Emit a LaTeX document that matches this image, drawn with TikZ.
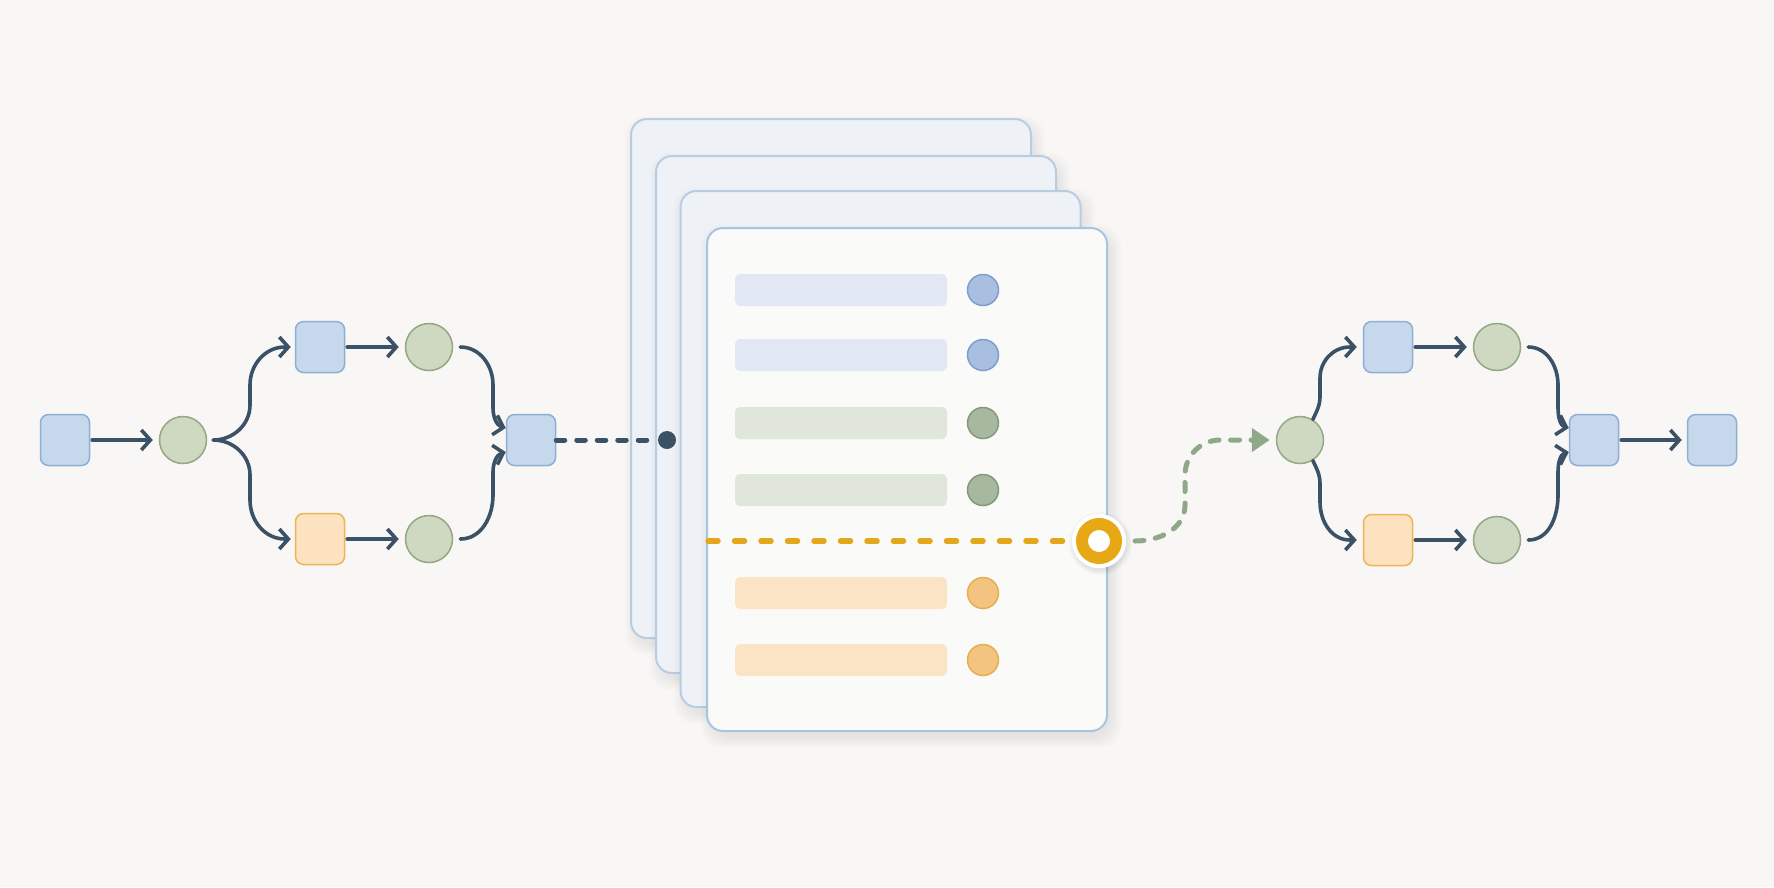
\documentclass[tikz,border=0pt]{standalone}
\usetikzlibrary{arrows.meta}
\definecolor{bg}{HTML}{F8F7F5}
\definecolor{arrowc}{HTML}{3B5166}
\definecolor{sqfill}{HTML}{C6D8EB}
\definecolor{sqdraw}{HTML}{8EAED2}
\definecolor{osqfill}{HTML}{FCE2BF}
\definecolor{osqdraw}{HTML}{EBB657}
\definecolor{cfill}{HTML}{CFD8C0}
\definecolor{cdraw}{HTML}{93A883}
\definecolor{cardback}{HTML}{EEF2F7}
\definecolor{cardfront}{HTML}{FAFAF9}
\definecolor{carddraw}{HTML}{B8CCE2}
\definecolor{frontdraw}{HTML}{A9C4E2}
\definecolor{barblue}{HTML}{E1E8F3}
\definecolor{barblueC}{HTML}{A9BFE2}
\definecolor{barblueD}{HTML}{7F9DCC}
\definecolor{bargreen}{HTML}{E0E6D9}
\definecolor{bargreenC}{HTML}{A8B89E}
\definecolor{bargreenD}{HTML}{84987A}
\definecolor{barorange}{HTML}{FBE4C6}
\definecolor{barorangeC}{HTML}{F2C47F}
\definecolor{barorangeD}{HTML}{E8AD50}
\definecolor{ringc}{HTML}{E6A815}
\definecolor{ydashc}{HTML}{E3A71B}
\definecolor{gdashc}{HTML}{8FA888}
\newcommand{\cardshadow}[4]{%
  \foreach \k in {0,1,2,3,4,5}{%
    \fill[black,fill opacity=0.012,rounded corners=2mm]
      ({#1+4-2*\k},{#2+7-2*\k}) rectangle ({#3+4+2*\k},{#4+7+2*\k});
  }%
}
\begin{document}
\begin{tikzpicture}[x=0.1mm,y=-0.1mm,
  sq/.style={draw=sqdraw,fill=sqfill,line width=0.15mm,rounded corners=0.8mm,minimum width=4.9mm,minimum height=5.1mm,inner sep=0pt},
  osq/.style={sq,draw=osqdraw,fill=osqfill},
  circ/.style={circle,draw=cdraw,fill=cfill,line width=0.15mm,minimum size=4.7mm,inner sep=0pt},
  arr/.style={draw=arrowc,line width=0.36mm,line cap=round,line join=round,-{Straight Barb[length=0.9mm,width=2mm,line width=0.36mm]}},
  card/.style={draw=carddraw,fill=cardback,line width=0.2mm,rounded corners=1.6mm,minimum width=40mm,inner sep=0pt},
  frontcard/.style={card,fill=cardfront,draw=frontdraw},
  bar/.style={rounded corners=0.5mm,minimum width=21.2mm,minimum height=3.2mm,inner sep=0pt},
  dotc/.style={circle,line width=0.15mm,minimum size=3.1mm,inner sep=0pt},
  ddash/.style={draw=arrowc,line width=0.5mm,line cap=round,dash pattern=on 0.85mm off 1.2mm},
  ydash/.style={draw=ydashc,line width=0.55mm,line cap=round,dash pattern=on 1.0mm off 1.65mm},
  gdash/.style={draw=gdashc,line width=0.5mm,line cap=round,dash pattern=on 0.9mm off 1.15mm},
  halo/.style={circle,fill=white,minimum size=5.4mm,inner sep=0pt}
]
\fill[bg] (0,0) rectangle (1774,887);
\useasboundingbox (0,0) rectangle (1774,887);

% ---- left flow ----
\node[sq] (s1) at (65,440) {};
\node[circ] (c1) at (183,440) {};
\node[sq] (ts) at (320,347) {};
\node[circ] (tc) at (429,347) {};
\node[osq] (bs) at (320,539) {};
\node[circ] (bc) at (429,539) {};
\node[sq] (ms) at (531,440) {};

\draw[arr,shorten <=0.2mm,shorten >=0.6mm] (s1) -- (c1);
\draw[arr,shorten >=0.4mm] ([xshift=0.6mm]c1.east) to[out=0,in=-90] (250,405) -- (250,385) to[out=90,in=180] (285,347) -- (ts.west);
\draw[arr,shorten >=0.4mm] ([xshift=0.6mm]c1.east) to[out=0,in=90] (250,475) -- (250,500) to[out=-90,in=180] (285,539) -- (bs.west);
\draw[arr,shorten <=0.2mm,shorten >=0.6mm] (ts) -- (tc);
\draw[arr,shorten <=0.2mm,shorten >=0.6mm] (bs) -- (bc);
\draw[arr] ([xshift=0.7mm]tc.east) to[out=0,in=90] (493,385) -- (493,408) to[out=-90,in=165] ([yshift=1.2mm]ms.west);
\draw[arr] ([xshift=0.7mm]bc.east) to[out=0,in=-90] (493,495) -- (493,472) to[out=90,in=195] ([yshift=-1.2mm]ms.west);

% ---- cards ----
\cardshadow{631}{119}{1031}{638}
\node[card,minimum height=51.9mm] (card1) at (831,378.5) {};
\cardshadow{656}{156}{1056}{673}
\node[card,minimum height=51.7mm] (card2) at (856,414.5) {};
\cardshadow{680}{191}{1081}{707}
\node[card,minimum height=51.6mm] (card3) at (880.5,449) {};
\cardshadow{707}{228}{1107}{731}
\node[frontcard,minimum height=50.3mm] (card4) at (907,479.5) {};

% rows
\foreach \yy/\bc/\cc/\dc [count=\i] in {290/barblue/barblueC/barblueD,355/barblue/barblueC/barblueD,423/bargreen/bargreenC/bargreenD,490/bargreen/bargreenC/bargreenD,593/barorange/barorangeC/barorangeD,660/barorange/barorangeC/barorangeD}{
  \node[bar,fill=\bc] (bar\i) at (841,\yy) {};
  \node[dotc,fill=\cc,draw=\dc] (dot\i) at (983,\yy) {};
}

% dashed dark connector into stack
\node[circle,fill=arrowc,minimum size=1.8mm,inner sep=0pt] (dot) at (667,440) {};
\draw[ddash] (ms.east) -- (dot);

% yellow dashed line and ring
\coordinate (ringpos) at (1099,541);
\foreach \k in {0,1,2,3}{\fill[black,fill opacity=0.025] ([xshift=0.15mm,yshift=-0.25mm]ringpos) circle[radius={2.7mm+0.15mm*\k}];}
\node[halo] (ring) at (ringpos) {};
\coordinate (ystart) at (card4.west |- ring);
\draw[ydash] ([xshift=0.2mm]ystart) -- ([xshift=-2.9mm]ring.center);
\fill[white] (ring) circle[radius=2.7mm];
\draw[ringc,line width=1.2mm] (ring.center) circle[radius=1.7mm];

% ---- right flow ----
\node[circ] (c5) at (1300,440) {};
\node[sq] (rts) at (1388,347) {};
\node[circ] (rtc) at (1497,347) {};
\node[osq] (rbs) at (1388,540) {};
\node[circ] (rbc) at (1497,540) {};
\node[sq] (rms) at (1594,440) {};
\node[sq] (rf) at (1712,440) {};

\draw[gdash,-{Triangle[length=1.8mm,width=2.3mm]},shorten >=0.6mm] ([xshift=3.6mm]ring.center) to[out=0,in=-90] (1185,505) -- (1185,475) to[out=90,in=180] (1220,440) -- (c5.west);

\draw[arr,shorten >=0.6mm] (c5.58) to[out=65,in=-90] (1320,396) -- (1320,378) to[out=90,in=180] (1350,347) -- (rts.west);
\draw[arr,shorten >=0.6mm] (c5.-58) to[out=-65,in=90] (1320,484) -- (1320,502) to[out=-90,in=180] (1350,540) -- (rbs.west);
\draw[arr,shorten <=0.2mm,shorten >=0.6mm] (rts) -- (rtc);
\draw[arr,shorten <=0.2mm,shorten >=0.6mm] (rbs) -- (rbc);
\draw[arr] ([xshift=0.7mm]rtc.east) to[out=0,in=90] (1558,385) -- (1558,408) to[out=-90,in=165] ([yshift=1.2mm]rms.west);
\draw[arr] ([xshift=0.7mm]rbc.east) to[out=0,in=-90] (1558,495) -- (1558,472) to[out=90,in=195] ([yshift=-1.2mm]rms.west);
\draw[arr,shorten <=0.2mm,shorten >=0.5mm] (rms) -- (rf);
\end{tikzpicture}
\end{document}
